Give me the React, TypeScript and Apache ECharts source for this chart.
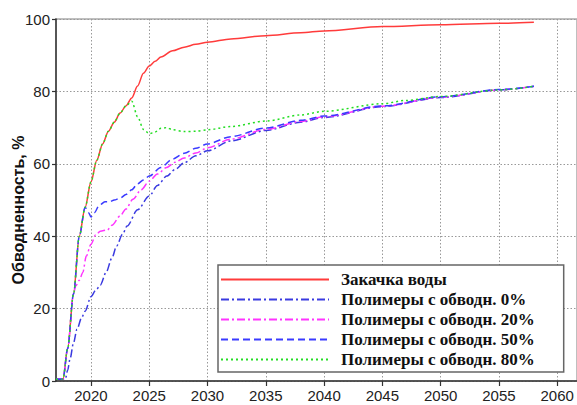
import React, { useEffect, useRef } from "react";
import * as echarts from "echarts";

const seriesNames = [
  "Закачка воды",
  "Полимеры с обводн. 0%",
  "Полимеры с обводн. 20%",
  "Полимеры с обводн. 50%",
  "Полимеры с обводн. 80%",
];

const xTickLabels = [2020, 2025, 2030, 2035, 2040, 2045, 2050, 2055, 2060];

const waterYears = [2017, 2017.6, 2018, 2018.5, 2019, 2019.5, 2020, 2020.5, 2021, 2021.5, 2022, 2022.5, 2023, 2023.5, 2024, 2024.5, 2025, 2025.5, 2026, 2027, 2028, 2029, 2030, 2032, 2035, 2038, 2040, 2045, 2050, 2055, 2058];
const waterValues = [0.5, 0.5, 9, 24, 40, 48, 55, 61, 65.5, 69, 71.5, 74, 76, 78.2, 81.5, 85, 87, 88.3, 89.5, 91.2, 92.2, 93, 93.6, 94.5, 95.4, 96.2, 96.7, 97.9, 98.4, 98.8, 99.1];

const p0Years = [2017, 2017.8, 2018, 2018.2, 2018.5, 2018.8, 2019.2, 2019.5, 2020, 2020.4, 2020.8, 2021.3, 2021.8, 2022.2, 2022.7, 2023.1, 2024, 2025, 2025.7, 2026.5, 2027.2, 2028, 2029, 2030, 2032, 2035, 2038, 2040, 2045, 2050, 2055, 2058];
const p0Values = [0.5, 0.5, 3, 6, 10.5, 14.3, 17.5, 19.3, 23.3, 25, 26.5, 30, 34, 37.3, 40.5, 42.8, 47.3, 51.1, 54, 56.6, 58.4, 60.3, 62.2, 63.6, 66.3, 69.2, 71.5, 72.8, 75.8, 78.3, 80.4, 81.4];

const p20Years = [2017, 2017.6, 2018, 2018.5, 2018.7, 2019, 2019.3, 2019.6, 2020, 2020.4, 2020.8, 2021.4, 2021.8, 2022.5, 2023, 2023.6, 2024.3, 2025, 2025.7, 2026.5, 2027.2, 2028, 2029, 2030, 2032, 2035, 2038, 2040, 2045, 2050, 2055, 2058];
const p20Values = [0.5, 0.5, 9, 24, 26.3, 27.8, 30, 34.5, 37.8, 40.3, 41.4, 41.7, 43, 45.6, 47.5, 50.2, 52.8, 55.2, 57.2, 59, 60.4, 61.6, 63, 64.4, 66.8, 69.5, 71.7, 73, 75.9, 78.4, 80.4, 81.4];

const p50Years = [2017, 2017.6, 2018, 2018.5, 2019, 2019.5, 2019.8, 2020, 2020.3, 2020.7, 2021.2, 2021.6, 2022, 2022.5, 2023, 2023.5, 2024, 2024.5, 2025, 2026, 2027, 2028, 2029, 2030, 2032, 2035, 2038, 2040, 2045, 2050, 2055, 2058];
const p50Values = [0.5, 0.5, 9, 24, 40, 48, 46.5, 45.3, 46.5, 48.5, 49.5, 49.5, 50, 50.5, 51.5, 52.8, 54.5, 55.5, 56.6, 59, 61.3, 62.9, 64.3, 65.5, 67.5, 69.9, 72, 73.2, 76, 78.5, 80.5, 81.4];

const p80Years = [2017, 2017.6, 2018, 2018.5, 2019, 2019.5, 2020, 2020.5, 2021, 2021.5, 2022, 2022.5, 2023, 2023.5, 2024, 2024.5, 2025, 2025.5, 2026, 2026.5, 2027, 2028, 2029, 2030, 2032, 2035, 2038, 2040, 2045, 2047, 2050, 2055, 2058];
const p80Values = [0.5, 0.5, 9, 24, 40, 48, 55, 61, 65.5, 69, 71.5, 74, 76, 77.3, 73, 69.5, 68.3, 68.8, 69.8, 70, 69.4, 68.9, 69, 69.4, 70.3, 71.8, 73.5, 74.5, 76.6, 77.5, 78.6, 80.4, 81.4];

const pairs = (xs: number[], ys: number[]) => xs.map((x, i) => [x, ys[i]]);

export default function App() {
  const ref = useRef<HTMLDivElement>(null);
  useEffect(() => {
    if (!ref.current) return;
    const chart = echarts.init(ref.current, undefined, { renderer: "svg" });
    const mk = (name: string, data: number[][], color: string, type: any) => ({
      name,
      type: "line",
      data,
      symbol: "none",
      showSymbol: false,
      smooth: 0.3,
      smoothMonotone: "x",
      lineStyle: { color, width: 1.5, type },
      itemStyle: { color },
    });
    chart.setOption({
      animation: false,
      backgroundColor: "#fff",
      grid: {
        left: 56,
        right: -2,
        top: 19,
        bottom: 24,
        show: true,
        borderColor: "#aaa",
        borderWidth: 1.5,
      },
      xAxis: {
        type: "value",
        min: 2017,
        max: 2061.7,
        axisLine: { show: true, lineStyle: { color: "#333", width: 1.5 } },
        axisTick: {
          show: true,
          length: 5,
          customValues: xTickLabels,
          lineStyle: { color: "#333", width: 1.2 },
        },
        axisLabel: {
          customValues: xTickLabels,
          formatter: (v: number) => String(v),
          color: "#222",
          fontSize: 15,
          fontFamily: "Arial, 'Liberation Sans'",
          margin: 7,
        },
        splitLine: {
          show: true,
          lineStyle: { color: "#999", type: [1.5, 2], width: 1 },
        },
      },
      yAxis: {
        type: "value",
        min: 0,
        max: 100,
        interval: 20,
        axisLine: { show: true, lineStyle: { color: "#333", width: 1.5 } },
        axisTick: { show: true, length: 4, lineStyle: { color: "#333", width: 1.2 } },
        axisLabel: {
          color: "#222",
          fontSize: 15,
          fontFamily: "Arial, 'Liberation Sans'",
          margin: 6,
        },
        splitLine: {
          show: true,
          lineStyle: { color: "#999", type: [1.5, 2], width: 1 },
        },
      },
      legend: {
        data: seriesNames,
        orient: "vertical",
        left: 218,
        top: 265,
        padding: [6, 29, 4, 2],
        itemWidth: 108,
        itemHeight: 14,
        itemGap: 3,
        backgroundColor: "#fff",
        borderColor: "#666",
        borderWidth: 1.5,
        borderRadius: 0,
        itemStyle: { opacity: 0, color: "transparent", borderWidth: 0 },
        textStyle: {
          color: "#111",
          fontSize: 17,
          fontWeight: "bold",
          fontFamily: "'Liberation Serif', 'Times New Roman', serif",
          padding: [0, 0, 0, 7],
        },
      },
      graphic: [
        {
          type: "text",
          x: 18,
          y: 210,
          rotation: Math.PI / 2,
          style: {
            text: "Обводненность, %",
            font: "bold 16px Arial, 'Liberation Sans'",
            fill: "#111",
            align: "center",
            verticalAlign: "middle",
          },
        },
      ],
      series: [
        mk(seriesNames[0], pairs(waterYears, waterValues), "#ff3b3b", "solid"),
        mk(seriesNames[1], pairs(p0Years, p0Values), "#3a3ae0", [8, 3, 2, 3]),
        mk(seriesNames[2], pairs(p20Years, p20Values), "#ff33ff", [8, 3, 2, 3]),
        mk(seriesNames[3], pairs(p50Years, p50Values), "#3a3aff", [7, 4]),
        mk(seriesNames[4], pairs(p80Years, p80Values), "#22dd22", [2, 3]),
      ],
    });
    return () => chart.dispose();
  }, []);
  return (
    <div
      ref={ref}
      style={{ position: "absolute", left: 0, top: 0, width: 577, height: 405 }}
    />
  );
}
